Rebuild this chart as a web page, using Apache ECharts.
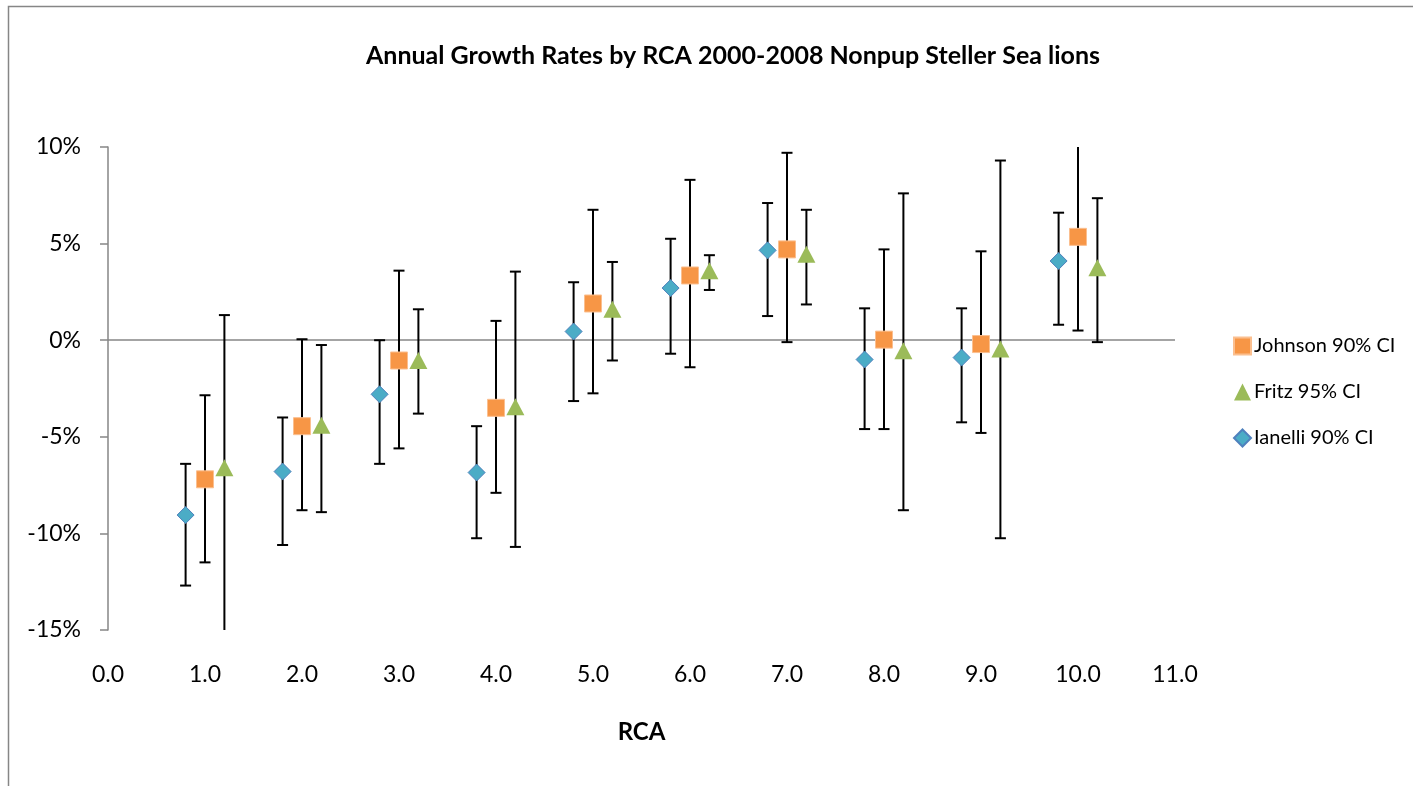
<!DOCTYPE html>
<html>
<head>
<meta charset="utf-8">
<script src="https://cdn.jsdelivr.net/npm/echarts@6/dist/echarts.min.js"></script>
<style>
  html, body { margin: 0; padding: 0; background: #fff; }
  #chart { width: 1413px; height: 786px; }
</style>
</head>
<body>
<div id="chart"></div>
<script>
// RCA regions
const rca = [1, 2, 3, 4, 5, 6, 7, 8, 9, 10];

// Johnson 90% CI (percent)
const johnsonMid  = [-7.2, -4.45, -1.05, -3.5, 1.9, 3.35, 4.7, 0.03, -0.2, 5.35];
const johnsonLow  = [-11.5, -8.8, -5.6, -7.9, -2.75, -1.4, -0.1, -4.6, -4.8, 0.5];
const johnsonHigh = [-2.85, 0.05, 3.6, 1.0, 6.75, 8.3, 9.7, 4.7, 4.6, 10.4];

// Fritz 95% CI
const fritzMid  = [-6.6, -4.4, -1.05, -3.45, 1.6, 3.6, 4.45, -0.55, -0.45, 3.75];
const fritzLow  = [-15.4, -8.9, -3.8, -10.7, -1.05, 2.6, 1.85, -8.8, -10.25, -0.1];
const fritzHigh = [1.3, -0.25, 1.6, 3.55, 4.05, 4.4, 6.75, 7.6, 9.3, 7.35];

// Ianelli 90% CI
const ianelliMid  = [-9.05, -6.8, -2.8, -6.85, 0.45, 2.7, 4.65, -1.0, -0.9, 4.1];
const ianelliLow  = [-12.7, -10.6, -6.4, -10.25, -3.15, -0.7, 1.25, -4.6, -4.25, 0.8];
const ianelliHigh = [-6.4, -4.0, 0.0, -4.45, 3.0, 5.25, 7.1, 1.65, 1.65, 6.6];

const OFFSET = 0.2;
const Y_MIN = -15, Y_MAX = 10;
const FONT = 'Lato, "Open Sans", sans-serif';

function pts(mid, shift) {
  return rca.map((r, i) => [r + shift, mid[i]]);
}
function bars(low, high, shift) {
  return rca.map((r, i) => [r + shift, low[i], high[i]]);
}

function renderError(params, api) {
  const x = api.value(0);
  let lo = api.value(1), hi = api.value(2);
  const loClip = lo < Y_MIN, hiClip = hi > Y_MAX;
  lo = Math.max(lo, Y_MIN);
  hi = Math.min(hi, Y_MAX);
  const p1 = api.coord([x, lo]);
  const p2 = api.coord([x, hi]);
  const cw = 5.5;
  const style = { stroke: '#000', lineWidth: 2 };
  const children = [
    { type: 'line', shape: { x1: p1[0], y1: p1[1], x2: p2[0], y2: p2[1] }, style: style }
  ];
  if (!loClip) children.push({ type: 'line', shape: { x1: p1[0] - cw, y1: p1[1], x2: p1[0] + cw, y2: p1[1] }, style: style });
  if (!hiClip) children.push({ type: 'line', shape: { x1: p2[0] - cw, y1: p2[1], x2: p2[0] + cw, y2: p2[1] }, style: style });
  return { type: 'group', children: children };
}

function errSeries(name, data) {
  return {
    name: name + ' err',
    type: 'custom',
    renderItem: renderError,
    data: data,
    z: 2,
    silent: true,
    encode: { x: 0, y: [1, 2] }
  };
}

const chart = echarts.init(document.getElementById('chart'), null, { renderer: 'canvas' });

const option = {
  animation: false,
  backgroundColor: '#fff',
  title: {
    text: 'Annual Growth Rates by RCA 2000-2008 Nonpup Steller Sea lions',
    left: 728,
    textAlign: 'center',
    top: 38,
    textStyle: { fontFamily: FONT, fontSize: 25, fontWeight: 'bold', color: '#000' }
  },
  graphic: [
    {
      type: 'rect',
      shape: { x: 8.5, y: 6.5, width: 1420, height: 800 },
      style: { fill: 'none', stroke: '#868686', lineWidth: 1.5 },
      silent: true
    }
  ],
  legend: {
    orient: 'vertical',
    left: 1228,
    top: 331,
    itemGap: 26,
    itemWidth: 17,
    itemHeight: 17,
    data: ['Johnson 90% CI', 'Fritz 95% CI', 'Ianelli 90% CI'],
    textStyle: { fontFamily: FONT, fontSize: 20, color: '#000', padding: [0, 0, 0, -2] }
  },
  grid: { left: 108, right: 238, top: 147, bottom: 156 },
  xAxis: {
    type: 'value',
    min: 0,
    max: 11,
    interval: 1,
    name: 'RCA',
    nameLocation: 'middle',
    nameGap: 90,
    nameTextStyle: { fontFamily: FONT, fontSize: 24, fontWeight: 'bold', color: '#000' },
    axisLine: { show: false, onZero: false },
    axisTick: { show: false },
    splitLine: { show: false },
    axisLabel: {
      margin: 33,
      fontFamily: FONT,
      fontSize: 23,
      color: '#000',
      formatter: v => v.toFixed(1)
    }
  },
  yAxis: {
    type: 'value',
    min: Y_MIN,
    max: Y_MAX,
    interval: 5,
    axisLine: { show: true, lineStyle: { color: '#868686', width: 1.5 } },
    axisTick: { show: true, length: 8, lineStyle: { color: '#868686', width: 1.5 } },
    splitLine: { show: false },
    axisLabel: {
      margin: 27,
      fontFamily: FONT,
      fontSize: 23,
      color: '#000',
      formatter: v => v + '%'
    }
  },
  series: [
    errSeries('Johnson 90% CI', bars(johnsonLow, johnsonHigh, 0)),
    errSeries('Fritz 95% CI', bars(fritzLow, fritzHigh, OFFSET)),
    errSeries('Ianelli 90% CI', bars(ianelliLow, ianelliHigh, -OFFSET)),
    {
      name: 'Johnson 90% CI',
      type: 'scatter',
      symbol: 'rect',
      symbolSize: 17,
      z: 5,
      itemStyle: { color: '#F79646', borderColor: '#FBBF8F', borderWidth: 1, opacity: 1 },
      data: pts(johnsonMid, 0),
      markLine: {
        silent: true,
        symbol: 'none',
        label: { show: false },
        lineStyle: { color: '#868686', width: 1.5, type: 'solid' },
        data: [{ yAxis: 0 }],
        z: 1
      }
    },
    {
      name: 'Fritz 95% CI',
      type: 'scatter',
      symbol: 'triangle',
      symbolSize: [18, 17],
      z: 5,
      itemStyle: { color: '#9BBB59', opacity: 1 },
      data: pts(fritzMid, OFFSET)
    },
    {
      name: 'Ianelli 90% CI',
      type: 'scatter',
      symbol: 'diamond',
      symbolSize: 17,
      z: 5,
      itemStyle: { color: '#4BACC6', borderColor: '#4F81BD', borderWidth: 1, opacity: 1 },
      data: pts(ianelliMid, -OFFSET)
    }
  ]
};

chart.setOption(option);
</script>
</body>
</html>
